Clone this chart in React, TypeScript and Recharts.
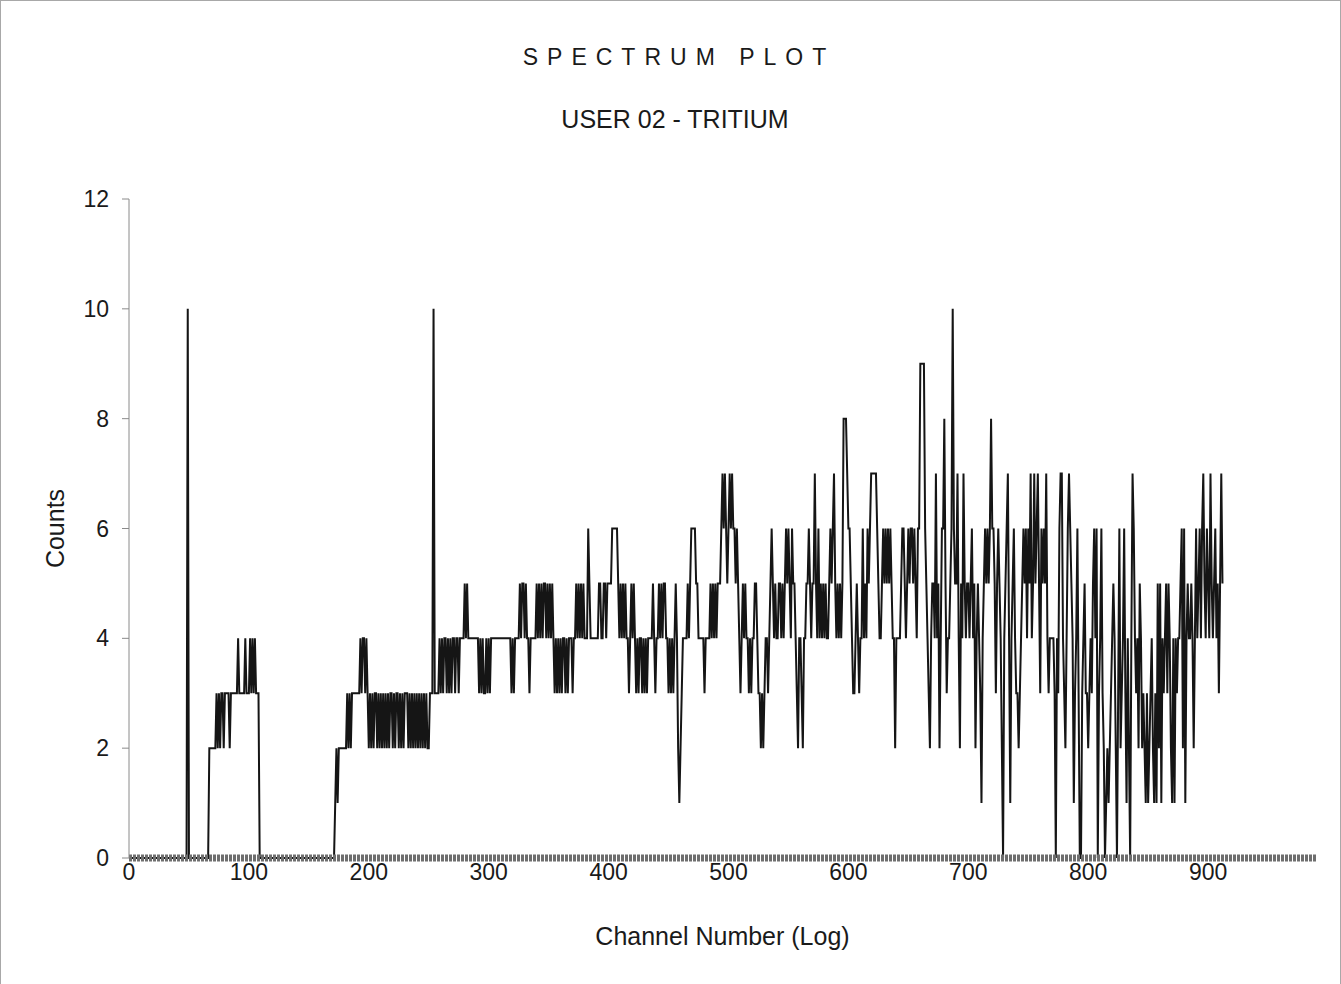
import React from "react";
import { Label, Line, LineChart, XAxis, YAxis } from "recharts";

// counts per channel in blocks of 100 channels
const counts000 = [
  0, 0, 0, 0, 0, 0, 0, 0, 0, 0, 0, 0, 0, 0, 0, 0, 0, 0, 0, 0,
  0, 0, 0, 0, 0, 0, 0, 0, 0, 0, 0, 0, 0, 0, 0, 0, 0, 0, 0, 0,
  0, 0, 0, 0, 0, 0, 0, 0, 0, 10, 0, 0, 0, 0, 0, 0, 0, 0, 0, 0,
  0, 0, 0, 0, 0, 0, 0, 2, 2, 2, 2, 2, 2, 3, 2, 3, 2, 3, 3, 2,
  3, 3, 3, 3, 2, 3, 3, 3, 3, 3, 3, 4, 3, 3, 3, 3, 3, 4, 3, 3,
];
const counts100 = [
  3, 4, 3, 4, 3, 4, 3, 3, 3, 0, 0, 0, 0, 0, 0, 0, 0, 0, 0, 0,
  0, 0, 0, 0, 0, 0, 0, 0, 0, 0, 0, 0, 0, 0, 0, 0, 0, 0, 0, 0,
  0, 0, 0, 0, 0, 0, 0, 0, 0, 0, 0, 0, 0, 0, 0, 0, 0, 0, 0, 0,
  0, 0, 0, 0, 0, 0, 0, 0, 0, 0, 0, 0, 1, 2, 1, 2, 2, 2, 2, 2,
  2, 2, 3, 2, 3, 2, 3, 3, 3, 3, 3, 3, 3, 4, 3, 4, 4, 3, 4, 3,
];
const counts200 = [
  2, 3, 2, 3, 2, 3, 3, 2, 3, 2, 3, 2, 3, 2, 3, 2, 3, 2, 3, 3,
  2, 3, 2, 3, 3, 2, 3, 2, 3, 2, 3, 3, 3, 2, 3, 2, 3, 2, 3, 2,
  3, 2, 3, 2, 3, 2, 3, 2, 3, 2, 2, 3, 3, 3, 10, 3, 3, 3, 3, 4,
  3, 4, 3, 4, 4, 3, 4, 3, 4, 3, 4, 4, 3, 4, 4, 3, 4, 4, 4, 4,
  5, 4, 5, 4, 4, 4, 4, 4, 4, 4, 4, 4, 3, 4, 3, 4, 3, 3, 4, 3,
];
const counts300 = [
  4, 3, 4, 4, 4, 4, 4, 4, 4, 4, 4, 4, 4, 4, 4, 4, 4, 4, 4, 3,
  4, 3, 4, 4, 4, 4, 5, 4, 5, 5, 4, 5, 4, 4, 3, 4, 4, 4, 4, 4,
  5, 4, 5, 4, 5, 4, 5, 5, 4, 5, 4, 5, 4, 5, 4, 3, 4, 3, 4, 3,
  4, 3, 4, 4, 3, 4, 3, 4, 4, 4, 3, 4, 4, 5, 4, 5, 4, 5, 4, 5,
  4, 4, 4, 6, 5, 4, 4, 4, 4, 4, 4, 4, 5, 5, 4, 4, 5, 5, 4, 5,
];
const counts400 = [
  5, 5, 5, 6, 6, 6, 6, 6, 5, 4, 5, 4, 5, 4, 5, 4, 4, 3, 4, 5,
  4, 5, 4, 3, 4, 3, 4, 4, 3, 4, 3, 4, 3, 4, 4, 4, 4, 5, 4, 3,
  4, 4, 5, 4, 5, 4, 5, 5, 4, 4, 3, 4, 3, 4, 3, 4, 5, 4, 2, 1,
  2, 3, 4, 4, 4, 4, 5, 4, 5, 6, 6, 6, 6, 5, 5, 4, 4, 4, 4, 4,
  3, 4, 4, 4, 4, 5, 4, 5, 4, 5, 4, 5, 5, 5, 6, 7, 6, 7, 6, 5,
];
const counts500 = [
  6, 7, 6, 7, 6, 6, 5, 6, 5, 4, 3, 4, 5, 4, 5, 4, 4, 3, 4, 3,
  4, 4, 5, 5, 4, 3, 3, 2, 3, 2, 3, 4, 4, 3, 4, 5, 6, 5, 4, 5,
  4, 4, 5, 5, 4, 5, 4, 5, 6, 5, 6, 5, 4, 6, 5, 5, 4, 3, 2, 4,
  4, 3, 2, 4, 4, 5, 5, 6, 5, 4, 5, 5, 7, 5, 4, 6, 4, 5, 4, 5,
  4, 5, 4, 4, 5, 6, 5, 6, 7, 5, 4, 5, 4, 5, 4, 5, 8, 8, 8, 7,
];
const counts600 = [
  6, 6, 5, 4, 3, 3, 4, 5, 4, 3, 4, 4, 6, 4, 5, 4, 6, 5, 6, 7,
  7, 7, 7, 7, 6, 5, 4, 4, 5, 6, 5, 6, 5, 6, 5, 6, 5, 4, 4, 2,
  4, 4, 4, 4, 5, 6, 6, 5, 4, 5, 6, 5, 6, 6, 5, 6, 5, 4, 6, 6,
  9, 9, 9, 9, 6, 5, 4, 3, 2, 4, 5, 5, 4, 7, 4, 5, 2, 4, 6, 6,
  8, 5, 3, 4, 4, 5, 6, 10, 6, 5, 5, 7, 4, 2, 5, 4, 7, 5, 4, 5,
];
const counts700 = [
  5, 4, 5, 6, 4, 5, 2, 4, 5, 4, 3, 1, 4, 5, 6, 5, 6, 5, 6, 8,
  6, 6, 5, 3, 5, 6, 5, 4, 2, 0, 4, 5, 6, 7, 4, 1, 4, 5, 6, 4,
  3, 3, 2, 3, 4, 5, 6, 5, 6, 4, 6, 5, 7, 4, 5, 7, 5, 6, 7, 5,
  3, 6, 5, 6, 5, 7, 4, 3, 4, 4, 4, 4, 3, 0, 4, 3, 6, 7, 7, 4,
  3, 2, 4, 6, 7, 6, 5, 4, 1, 3, 4, 6, 3, 0, 0, 3, 4, 5, 3, 3,
];
const counts800 = [
  2, 3, 4, 3, 5, 6, 4, 6, 0, 3, 4, 6, 3, 2, 0, 1, 2, 1, 2, 3,
  4, 5, 4, 2, 0, 3, 6, 2, 3, 4, 6, 3, 1, 4, 2, 0, 4, 7, 6, 4,
  3, 4, 2, 5, 4, 2, 3, 2, 1, 3, 1, 2, 3, 4, 2, 1, 3, 1, 5, 2,
  5, 1, 4, 3, 4, 5, 3, 5, 4, 2, 1, 4, 1, 4, 3, 4, 4, 5, 6, 2,
  6, 1, 4, 5, 4, 4, 5, 4, 2, 4, 6, 4, 5, 6, 4, 6, 7, 5, 4, 6,
];
const counts900 = [5, 4, 7, 5, 4, 5, 6, 4, 5, 3, 5, 7, 5];

const xTicks = [0, 100, 200, 300, 400, 500, 600, 700, 800, 900];
const yTicks = [0, 2, 4, 6, 8, 10, 12];

const spectrum = [
  ...counts000,
  ...counts100,
  ...counts200,
  ...counts300,
  ...counts400,
  ...counts500,
  ...counts600,
  ...counts700,
  ...counts800,
  ...counts900,
].map((c, i) => ({ channel: i, counts: c }));

const font = "'Liberation Sans', Arial, sans-serif";

export default function App() {
  return (
    <div
      style={{
        position: "absolute",
        left: 0,
        top: 0,
        width: 1341,
        height: 984,
        background: "#fff",
        fontFamily: font,
        overflow: "hidden",
      }}
    >
      <div
        style={{
          position: "absolute",
          left: 0,
          top: 0,
          width: 1341,
          height: 984,
          boxSizing: "border-box",
          border: "1px solid #a8a8a8",
          borderBottom: "none",
          pointerEvents: "none",
        }}
      />
      <div
        style={{
          position: "absolute",
          left: 0,
          width: 1358,
          top: 44,
          textAlign: "center",
          fontSize: 23,
          letterSpacing: 9,
          color: "#1a1a1a",
          lineHeight: "26px",
        }}
      >
        SPECTRUM PLOT
      </div>
      <div
        style={{
          position: "absolute",
          left: 0,
          width: 1350,
          top: 106,
          textAlign: "center",
          fontSize: 25,
          color: "#1a1a1a",
          lineHeight: "26px",
        }}
      >
        USER 02 - TRITIUM
      </div>
      <LineChart
        width={1341}
        height={984}
        data={spectrum}
        margin={{ top: 199, right: 25, bottom: 0, left: 0 }}
      >
        <XAxis
          dataKey="channel"
          type="number"
          domain={[0, 990]}
          ticks={xTicks}
          allowDataOverflow
          height={126}
          tickSize={0}
          tickMargin={6}
          axisLine={{ stroke: "#6e6e6e", strokeWidth: 7, strokeDasharray: "3 1" }}
          tick={{ fill: "#1a1a1a", fontSize: 23, fontFamily: font }}
        >
          <Label
            value="Channel Number (Log)"
            position="insideBottom"
            offset={39}
            style={{ fill: "#1a1a1a", fontSize: 25, fontFamily: font }}
          />
        </XAxis>
        <YAxis
          domain={[0, 12]}
          ticks={yTicks}
          width={129}
          tickSize={7}
          tickMargin={13}
          axisLine={{ stroke: "#8a8a8a", strokeWidth: 1 }}
          tickLine={{ stroke: "#8a8a8a" }}
          tick={{ fill: "#1a1a1a", fontSize: 23, fontFamily: font }}
        >
          <Label
            value="Counts"
            angle={-90}
            position="insideLeft"
            offset={55}
            style={{ fill: "#1a1a1a", fontSize: 25, fontFamily: font, textAnchor: "middle" }}
          />
        </YAxis>
        <Line
          type="linear"
          dataKey="counts"
          stroke="#151515"
          strokeWidth={2}
          dot={false}
          isAnimationActive={false}
        />
      </LineChart>
    </div>
  );
}
